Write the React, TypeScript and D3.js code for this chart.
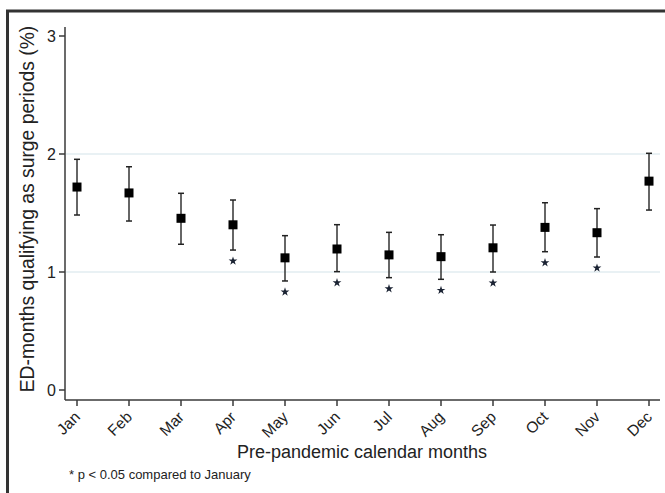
import { useEffect, useRef } from 'react';
import * as d3 from 'd3';

const months = ['Jan', 'Feb', 'Mar', 'Apr', 'May', 'Jun', 'Jul', 'Aug', 'Sep', 'Oct', 'Nov', 'Dec'];
const estimate = [1.72, 1.67, 1.455, 1.4, 1.12, 1.195, 1.145, 1.13, 1.205, 1.378, 1.333, 1.77];
const lowerCI = [1.483, 1.432, 1.235, 1.186, 0.924, 1.003, 0.952, 0.938, 1.0, 1.172, 1.127, 1.525];
const upperCI = [1.955, 1.892, 1.667, 1.61, 1.308, 1.401, 1.336, 1.316, 1.398, 1.587, 1.537, 2.006];
const significant = [false, false, false, true, true, true, true, true, true, true, true, false];
const yTicks = [0, 1, 2, 3];

const W = 665;
const H = 493;

export default function App() {
  const svgRef = useRef<SVGSVGElement>(null);

  useEffect(() => {
    const svg = d3.select(svgRef.current);
    svg.selectAll('*').remove();

    const x = d3.scalePoint<string>().domain(months).range([77, 649]);
    const y = d3.scaleLinear().domain([0, 3]).range([390, 36]);
    const axisColor = '#3a3a3a';
    const font = '"Liberation Sans", Arial, sans-serif';

    svg.append('rect').attr('width', W).attr('height', H).attr('fill', '#fff');

    // outer frame (runs off the right and bottom edges)
    svg
      .append('rect')
      .attr('x', 7.5)
      .attr('y', 11)
      .attr('width', W + 20)
      .attr('height', H + 20)
      .attr('fill', 'none')
      .attr('stroke', '#333')
      .attr('stroke-width', 3);

    // gridlines at interior ticks
    svg
      .append('g')
      .selectAll('line')
      .data([1, 2])
      .join('line')
      .attr('x1', 66)
      .attr('x2', 660)
      .attr('y1', (d) => y(d))
      .attr('y2', (d) => y(d))
      .attr('stroke', '#e2ecf1')
      .attr('stroke-width', 1.5);

    // y axis
    svg
      .append('line')
      .attr('x1', 65)
      .attr('x2', 65)
      .attr('y1', 27)
      .attr('y2', 400)
      .attr('stroke', axisColor)
      .attr('stroke-width', 1.5);
    const yt = svg.append('g').selectAll('g').data(yTicks).join('g');
    yt.append('line')
      .attr('x1', 59)
      .attr('x2', 65)
      .attr('y1', (d) => y(d))
      .attr('y2', (d) => y(d))
      .attr('stroke', axisColor)
      .attr('stroke-width', 1.5);
    yt.append('text')
      .attr('x', 56)
      .attr('y', (d) => y(d))
      .attr('dy', '0.36em')
      .attr('text-anchor', 'end')
      .attr('font-family', font)
      .attr('font-size', 16)
      .attr('fill', '#222')
      .text((d) => d);

    svg
      .append('text')
      .attr('transform', `translate(34,${209}) rotate(-90)`)
      .attr('text-anchor', 'middle')
      .attr('font-family', font)
      .attr('font-size', 19.3)
      .attr('fill', '#222')
      .text('ED-months qualifying as surge periods (%)');

    // x axis
    svg
      .append('line')
      .attr('x1', 65)
      .attr('x2', 660)
      .attr('y1', 400)
      .attr('y2', 400)
      .attr('stroke', axisColor)
      .attr('stroke-width', 1.5);
    const xt = svg.append('g').selectAll('g').data(months).join('g');
    xt.append('line')
      .attr('x1', (d) => x(d)!)
      .attr('x2', (d) => x(d)!)
      .attr('y1', 400)
      .attr('y2', 406)
      .attr('stroke', axisColor)
      .attr('stroke-width', 1.5);
    xt.append('text')
      .attr('transform', (d) => `translate(${x(d)! + 4},${418}) rotate(-45)`)
      .attr('text-anchor', 'end')
      .attr('font-family', font)
      .attr('font-size', 15.5)
      .attr('fill', '#222')
      .text((d) => d);

    svg
      .append('text')
      .attr('x', 362)
      .attr('y', 458)
      .attr('text-anchor', 'middle')
      .attr('font-family', font)
      .attr('font-size', 18)
      .attr('fill', '#222')
      .text('Pre-pandemic calendar months');

    svg
      .append('text')
      .attr('x', 69)
      .attr('y', 479)
      .attr('font-family', font)
      .attr('font-size', 13)
      .attr('fill', '#222')
      .text('* p < 0.05 compared to January');

    // error bars
    const bars = svg
      .append('g')
      .selectAll('g')
      .data(months)
      .join('g')
      .attr('transform', (d) => `translate(${x(d)},0)`);
    bars
      .append('line')
      .attr('y1', (d, i) => y(lowerCI[i]))
      .attr('y2', (d, i) => y(upperCI[i]))
      .attr('stroke', '#333')
      .attr('stroke-width', 1.5);
    [lowerCI, upperCI].forEach((arr) => {
      bars
        .append('line')
        .attr('x1', -3)
        .attr('x2', 3)
        .attr('y1', (d, i) => y(arr[i]))
        .attr('y2', (d, i) => y(arr[i]))
        .attr('stroke', '#222')
        .attr('stroke-width', 1.5);
    });
    bars
      .append('rect')
      .attr('x', -4.5)
      .attr('y', (d, i) => y(estimate[i]) - 4.5)
      .attr('width', 9)
      .attr('height', 9)
      .attr('fill', '#000');

    // significance stars
    bars
      .filter((d, i) => significant[i])
      .append('path')
      .attr('d', d3.symbol(d3.symbolStar, 24)())
      .attr('transform', (d) => `translate(0,${y(lowerCI[months.indexOf(d)]) + 11})`)
      .attr('fill', '#1b2333');
  }, []);

  return (
    <svg
      ref={svgRef}
      width={W}
      height={H}
      style={{ position: 'absolute', left: 0, top: 0, display: 'block' }}
    />
  );
}
